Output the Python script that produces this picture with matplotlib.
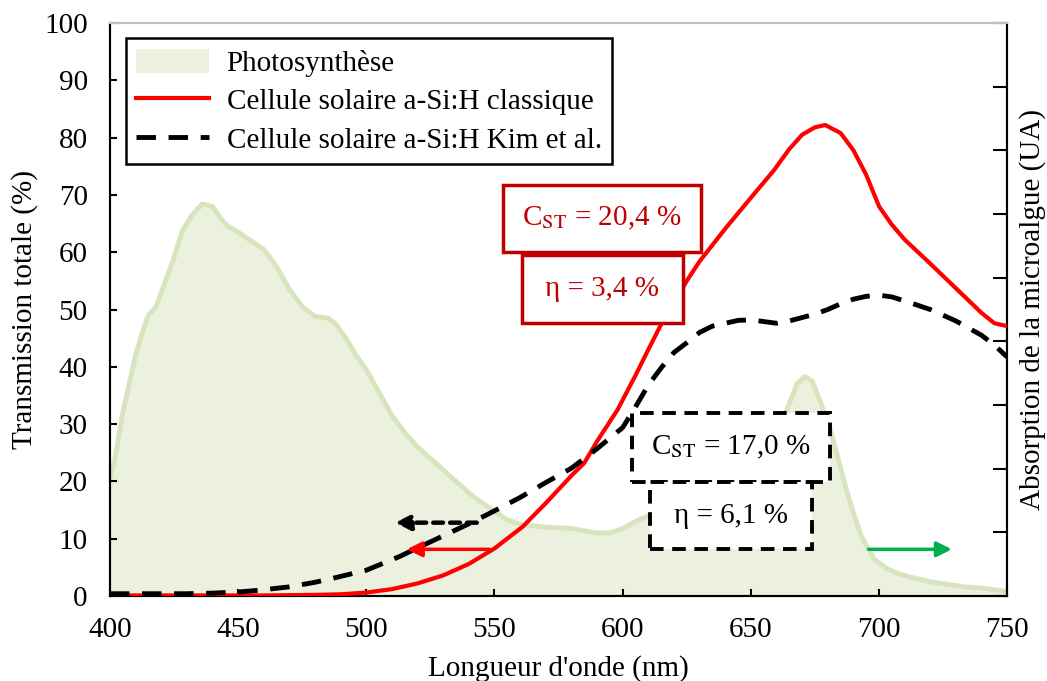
import numpy as np
import matplotlib
matplotlib.use('Agg')
import matplotlib.pyplot as plt
from matplotlib.patches import Rectangle, Patch
from matplotlib.lines import Line2D

# ---------------- data ----------------
wl_photo = [400, 402, 405, 408, 410, 413, 415, 418, 420, 425, 428, 432, 436, 440, 443, 446, 450,
            455, 460, 465, 470, 475, 480, 485, 488, 492, 496, 500, 505, 510, 515, 520, 525, 530,
            535, 540, 545, 550, 555, 560, 570, 580, 590, 595, 600, 605, 610, 620, 630, 640, 650,
            655, 660, 664, 668, 671, 674, 677, 681, 684, 687, 690, 693, 698, 703, 707, 712, 720,
            733, 740, 745, 750]
abs_photo = [20.5, 24, 32, 38, 42, 46.5, 49, 50.5, 53, 59, 63.5, 66.5, 68.4, 68, 66, 64.5, 63.5,
             62, 60.5, 57.5, 53.5, 50.5, 48.8, 48.5, 47.5, 45, 42, 39.5, 35.5, 31.5, 28.5, 26,
             24, 22, 20, 18, 16.3, 14.8, 13.3, 12.5, 12, 11.8, 11, 11, 11.8, 13, 14, 14.5, 15,
             15.5, 17, 20, 27, 32.5, 37, 38.3, 37.5, 34, 29, 24, 19, 14.5, 10.5, 6.5, 4.8, 4,
             3.3, 2.5, 1.6, 1.4, 1.1, 0.8]

wl_cls = [400, 420, 440, 460, 480, 490, 500, 510, 520, 530, 540, 550, 561, 570, 580, 585, 590,
          598, 605, 610, 615, 620, 625, 630, 640, 650, 659, 665, 670, 675, 679, 685, 690, 695,
          700, 705, 710, 720, 730, 740, 745, 750]
t_cls = [0.1, 0.1, 0.1, 0.1, 0.2, 0.3, 0.6, 1.2, 2.2, 3.6, 5.6, 8.3, 12.1, 16.2, 21, 23.2, 27,
         32.5, 38.5, 43, 47.4, 51.2, 55, 58.4, 64.1, 69.5, 74.3, 78, 80.5, 81.8, 82.2, 80.8, 77.8,
         73.5, 68, 64.8, 62.2, 58, 53.7, 49.4, 47.6, 47.1]

wl_kim = [400, 410, 420, 430, 440, 450, 458, 470, 480, 487, 500, 513, 520, 530, 540, 548, 560,
          570, 580, 590, 600, 605, 610, 615, 620, 625, 630, 635, 640, 645, 650, 655, 660, 665,
          670, 675, 680, 685, 690, 695, 700, 705, 710, 720, 730, 740, 745, 750]
t_kim = [0.4, 0.4, 0.4, 0.4, 0.5, 0.7, 1.0, 1.6, 2.4, 3.1, 4.5, 6.9, 8.4, 10.5, 12.6, 14.4, 17.2,
         19.8, 22.3, 25.7, 29.4, 33.0, 36.8, 39.8, 42.5, 44.2, 46, 47.1, 47.6, 48.1, 48.2, 47.9,
         47.6, 48, 48.6, 49.2, 50, 51, 51.8, 52.3, 52.5, 52.2, 51.5, 50, 48, 45.5, 43.8, 41.7]

x_ticks = [400, 450, 500, 550, 600, 650, 700, 750]
y_ticks = [0, 10, 20, 30, 40, 50, 60, 70, 80, 90, 100]

labels = ["Photosynthèse", "Cellule solaire a-Si:H classique", "Cellule solaire a-Si:H Kim et al."]
cst_texts = ["C$_{\\mathrm{ST}}$ = 20,4 %", "C$_{\\mathrm{ST}}$ = 17,0 %"]
eta_texts = ["η = 3,4 %", "η = 6,1 %"]

# ---------------- style ----------------
plt.rcParams['font.family'] = ['Liberation Serif', 'DejaVu Serif']
plt.rcParams['mathtext.fontset'] = 'stix'
FS = 21
RED = '#FF0000'
DRED = '#C00000'
GFILL = '#EBF1DE'
GLINE = '#D7E4BD'

fig = plt.figure(figsize=(10.47, 6.81), dpi=100)
ax = fig.add_axes([0.105, 0.1248, 0.857, 0.8414])
ax2 = ax.twinx()
ax.set_zorder(ax2.get_zorder() + 1)
ax.patch.set_visible(False)

# photosynthesis absorption (right axis)
ax2.fill_between(wl_photo, abs_photo, 0, color=GFILL, lw=0, zorder=1)
ax2.plot(wl_photo, abs_photo, color=GLINE, lw=3.5, solid_joinstyle='round', zorder=2)
ax2.set_ylim(0, 100)
ax2.set_yticks(np.linspace(0, 100, 10))
ax2.set_yticklabels([])
ax2.tick_params(axis='y', direction='in', length=10, width=1.5, right=True)
ax2.set_ylabel("Absorption de la microalgue (UA)", fontsize=FS, labelpad=5)

# transmission curves
ax.plot(wl_cls, t_cls, color=RED, lw=3, solid_capstyle='butt', solid_joinstyle='round', zorder=3)
ax.plot(wl_kim, t_kim, color='black', lw=3.5, dashes=(4, 2.6), zorder=4)

ax.set_xlim(400, 750)
ax.set_ylim(0, 100)
ax.set_xticks(x_ticks)
ax.set_yticks(y_ticks)
ax.tick_params(axis='both', direction='in', length=5, width=1.5, labelsize=FS)
ax.tick_params(axis='x', pad=15)
ax.tick_params(axis='y', pad=16)
ax.set_xlabel("Longueur d'onde (nm)", fontsize=FS, labelpad=9)
ax.set_ylabel("Transmission totale (%)", fontsize=FS, labelpad=4.5)

for a in (ax, ax2):
    for s in ('left', 'bottom', 'right'):
        a.spines[s].set_linewidth(1.5)
        a.spines[s].set_color('black')
    a.spines['top'].set_color('#BFBFBF')
    a.spines['top'].set_linewidth(1.5)

# annotation boxes (data coords)
def box(x0, x1, y0, y1, text, color, dashed):
    r = Rectangle((x0, y0), x1 - x0, y1 - y0, facecolor='white', edgecolor=color,
                  lw=2.5 if not dashed else 2.8, zorder=6,
                  linestyle=(0, (3.5, 2.2)) if dashed else '-')
    ax.add_patch(r)
    ax.text((x0 + x1) / 2, (y0 + y1) / 2, text, ha='center', va='center',
            fontsize=FS, color=color, zorder=7)

box(553.3, 630.6, 60.0, 71.7, cst_texts[0], DRED, False)
box(560.6, 623.4, 47.6, 59.5, eta_texts[0], DRED, False)
box(603.5, 680.9, 19.9, 31.9, cst_texts[1], 'black', True)
box(610.7, 673.8, 8.2, 19.9, eta_texts[1], 'black', True)

# arrows
HEAD = '-|>,head_length=0.9,head_width=0.45'
ax.annotate('', xy=(511.2, 12.8), xytext=(543.1, 12.8),
            arrowprops=dict(arrowstyle=HEAD, color='black',
                            lw=3.2, linestyle=(0, (2.2, 1.6)), shrinkA=0, shrinkB=0), zorder=5)
ax.annotate('', xy=(515.8, 8.15), xytext=(548.0, 8.15),
            arrowprops=dict(arrowstyle=HEAD, color=RED,
                            lw=2.5, shrinkA=0, shrinkB=0), zorder=5)
ax.annotate('', xy=(728.4, 8.15), xytext=(695.9, 8.15),
            arrowprops=dict(arrowstyle=HEAD, color='#00B050',
                            lw=2.5, shrinkA=0, shrinkB=0), zorder=5)

# legend
handles = [Patch(facecolor=GFILL, edgecolor='none'),
           Line2D([], [], color=RED, lw=3),
           Line2D([], [], color='black', lw=3.5, dashes=(4, 2.6))]
leg = ax.legend(handles, labels, loc='upper left', bbox_to_anchor=(0.0178, 0.973),
                fontsize=FS, frameon=True, fancybox=False, framealpha=1, edgecolor='black',
                handlelength=2.5, handleheight=0.9, labelspacing=0.35, borderpad=0.35,
                handletextpad=0.6, borderaxespad=0)
leg.get_frame().set_linewidth(1.8)
leg.set_zorder(10)

fig.savefig('out.png', dpi=100)
